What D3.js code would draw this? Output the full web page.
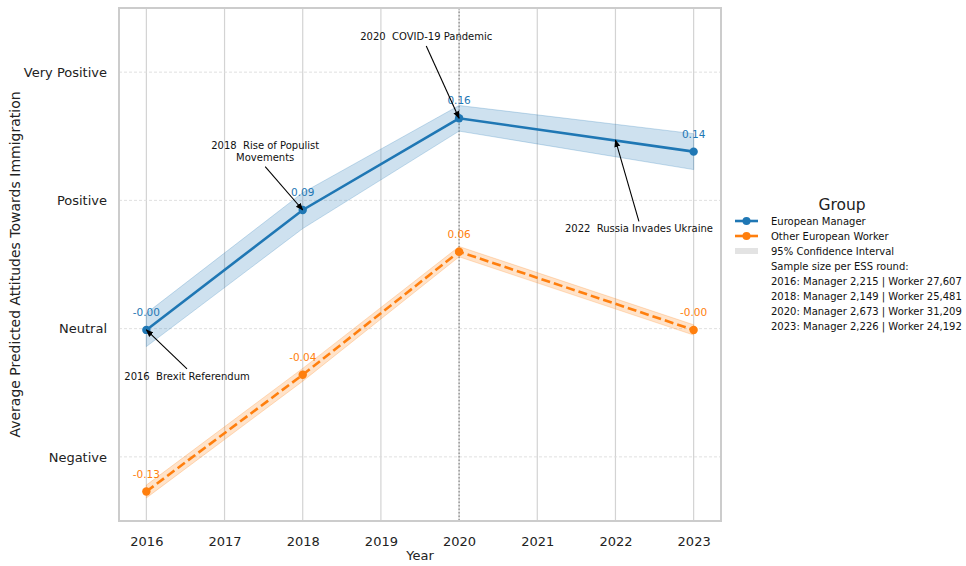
<!DOCTYPE html>
<html>
<head>
<meta charset="utf-8">
<script src="https://cdn.jsdelivr.net/npm/d3@7"></script>
<style>
  body { margin: 0; background: #fff; }
  text { font-family: "DejaVu Sans", sans-serif; white-space: pre; }
</style>
</head>
<body>
<script>
// data
const years = [2016, 2018, 2020, 2023];
const managerMean = [-0.001, 0.0925, 0.164, 0.138];
const managerLow = [-0.014, 0.078, 0.154, 0.124];
const managerHigh = [0.012, 0.106, 0.174, 0.152];
const workerMean = [-0.127, -0.036, 0.06, -0.001];
const workerLow = [-0.132, -0.041, 0.056, -0.005];
const workerHigh = [-0.122, -0.031, 0.064, 0.003];
const yTickValues = [-0.1, 0, 0.1, 0.2];
const yTickLabels = ["Negative", "Neutral", "Positive", "Very Positive"];
const xTicks = [2016, 2017, 2018, 2019, 2020, 2021, 2022, 2023];
const events = [
  {year: 2016, value: -0.001, label: ["2016  Brexit Referendum"], tx: 2016.52, ty: -0.04},
  {year: 2018, value: 0.0925, label: ["2018  Rise of Populist", "Movements"], tx: 2017.52, ty: 0.14},
  {year: 2020, value: 0.164, label: ["2020  COVID-19 Pandemic"], tx: 2019.58, ty: 0.225},
  {year: 2022, value: 0.147, label: ["2022  Russia Invades Ukraine"], tx: 2022.3, ty: 0.075}
];
const sampleSizes = [
  "2016: Manager 2,215 | Worker 27,607",
  "2018: Manager 2,149 | Worker 25,481",
  "2020: Manager 2,673 | Worker 31,209",
  "2023: Manager 2,226 | Worker 24,192"
];

const width = 966, height = 566;
const margin = {top: 8, right: 245, bottom: 45, left: 119};
const innerWidth = width - margin.left - margin.right;
const innerHeight = height - margin.top - margin.bottom;

// matplotlib style: hyphen minus, keeps "-0.00"
const fmt = v => (v < 0 ? "-" : "") + Math.abs(v).toFixed(2);

const svg = d3.select("body").append("svg").attr("width", width).attr("height", height);
const g = svg.append("g").attr("transform", "translate(" + margin.left + "," + margin.top + ")");

const x = d3.scaleLinear().domain([2015.65, 2023.35]).range([0, innerWidth]);
const y = d3.scaleLinear().domain([-0.15, 0.25]).range([innerHeight, 0]);

// grid
g.selectAll(".vgrid").data(xTicks).enter().append("line")
  .attr("x1", d => x(d)).attr("x2", d => x(d))
  .attr("y1", 0).attr("y2", innerHeight)
  .attr("stroke", "#d3d3d3").attr("stroke-width", 1.2);
g.selectAll(".hgrid").data(yTickValues).enter().append("line")
  .attr("x1", 0).attr("x2", innerWidth)
  .attr("y1", d => y(d)).attr("y2", d => y(d))
  .attr("stroke", "#dcdcdc").attr("stroke-width", 0.9).attr("stroke-dasharray", "3,2");

// 2020 marker line
g.append("line")
  .attr("x1", x(2020)).attr("x2", x(2020)).attr("y1", 0).attr("y2", innerHeight)
  .attr("stroke", "#888").attr("stroke-width", 1.2).attr("stroke-dasharray", "1.5,2");

// axes
const xAxis = g.append("g").attr("transform", "translate(0," + innerHeight + ")")
  .call(d3.axisBottom(x).tickValues(xTicks).tickFormat(d3.format("d")).tickSize(0).tickPadding(16));
const yAxis = g.append("g")
  .call(d3.axisLeft(y).tickValues(yTickValues).tickFormat((d, i) => yTickLabels[i]).tickSize(0).tickPadding(12));
[xAxis, yAxis].forEach(a => {
  a.select(".domain").remove();
  a.selectAll("text").attr("font-size", 13).attr("fill", "#222")
    .attr("font-family", "DejaVu Sans, sans-serif");
});

// frame
g.append("rect").attr("width", innerWidth).attr("height", innerHeight)
  .attr("fill", "none").attr("stroke", "#cccccc").attr("stroke-width", 2);

const series = [
  {mean: managerMean, low: managerLow, high: managerHigh, color: "#1f77b4", dash: null},
  {mean: workerMean, low: workerLow, high: workerHigh, color: "#ff7f0e", dash: "9,4"}
];

const area = d3.area().x((d, i) => x(years[i])).y0(d => y(d[0])).y1(d => y(d[1]));
const line = d3.line().x((d, i) => x(years[i])).y(d => y(d));

series.forEach(s => {
  g.append("path").datum(s.low.map((v, i) => [v, s.high[i]]))
    .attr("d", area).attr("fill", s.color).attr("fill-opacity", 0.22)
    .attr("stroke", s.color).attr("stroke-opacity", 0.3).attr("stroke-width", 0.8);
  g.append("path").datum(s.mean).attr("d", line)
    .attr("fill", "none").attr("stroke", s.color).attr("stroke-width", 2.6)
    .attr("stroke-dasharray", s.dash);
  g.selectAll(null).data(s.mean).enter().append("circle")
    .attr("cx", (d, i) => x(years[i])).attr("cy", d => y(d)).attr("r", 4.2)
    .attr("fill", s.color);
  g.selectAll(null).data(s.mean).enter().append("text")
    .attr("x", (d, i) => x(years[i])).attr("y", d => y(d) - 14)
    .attr("text-anchor", "middle").attr("font-size", 10.5).attr("fill", s.color)
    .text(d => fmt(d));
});

// annotations
svg.append("defs").append("marker").attr("id", "arrow")
  .attr("viewBox", "0 0 10 10").attr("refX", 9).attr("refY", 5)
  .attr("markerWidth", 7).attr("markerHeight", 7).attr("orient", "auto")
  .append("path").attr("d", "M0,1 L10,5 L0,9 z").attr("fill", "#000");

events.forEach(e => {
  const tx = x(e.tx), ty = y(e.ty);
  const t = g.append("text").attr("text-anchor", "middle").attr("font-size", 10).attr("fill", "#111");
  e.label.forEach((l, i) => t.append("tspan").attr("x", tx).attr("y", ty + i * 11.5).text(l));
  const px = x(e.year), py = y(e.value);
  const above = ty < py;
  const sy = above ? ty + (e.label.length - 1) * 11.5 + 6 : ty - 11;
  g.append("line").attr("x1", tx).attr("y1", sy).attr("x2", px).attr("y2", py)
    .attr("stroke", "#000").attr("stroke-width", 1.1).attr("marker-end", "url(#arrow)");
});

// axis titles
svg.append("text").attr("x", margin.left + x(2019.5)).attr("y", 560)
  .attr("text-anchor", "middle").attr("font-size", 13).attr("fill", "#222").text("Year");
svg.append("text").attr("transform", "translate(20," + (margin.top + innerHeight / 2) + ") rotate(-90)")
  .attr("text-anchor", "middle").attr("font-size", 14).attr("fill", "#222")
  .text("Average Predicted Attitudes Towards Immigration");

// legend
const lg = svg.append("g").attr("transform", "translate(735,0)");
lg.append("text").attr("x", 107).attr("y", 210).attr("text-anchor", "middle")
  .attr("font-size", 15.5).attr("fill", "#222").text("Group");
const legendItems = [
  {label: "European Manager", color: "#1f77b4", type: "line"},
  {label: "Other European Worker", color: "#ff7f0e", type: "line"},
  {label: "95% Confidence Interval", color: "#e3e3e3", type: "patch"}
].concat([{label: "Sample size per ESS round:", type: "none"}])
 .concat(sampleSizes.map(s => ({label: s, type: "none"})));
legendItems.forEach((it, i) => {
  const yy = 221 + i * 15;
  if (it.type === "line") {
    lg.append("line").attr("x1", 0).attr("x2", 23).attr("y1", yy).attr("y2", yy)
      .attr("stroke", it.color).attr("stroke-width", 2.6);
    lg.append("circle").attr("cx", 11.5).attr("cy", yy).attr("r", 4).attr("fill", it.color);
  } else if (it.type === "patch") {
    lg.append("rect").attr("x", 0).attr("y", yy - 3).attr("width", 23).attr("height", 6).attr("fill", it.color);
  }
  lg.append("text").attr("x", 36).attr("y", yy + 3.5).attr("font-size", 10)
    .attr("fill", "#111").text(it.label);
});
</script>
</body>
</html>
